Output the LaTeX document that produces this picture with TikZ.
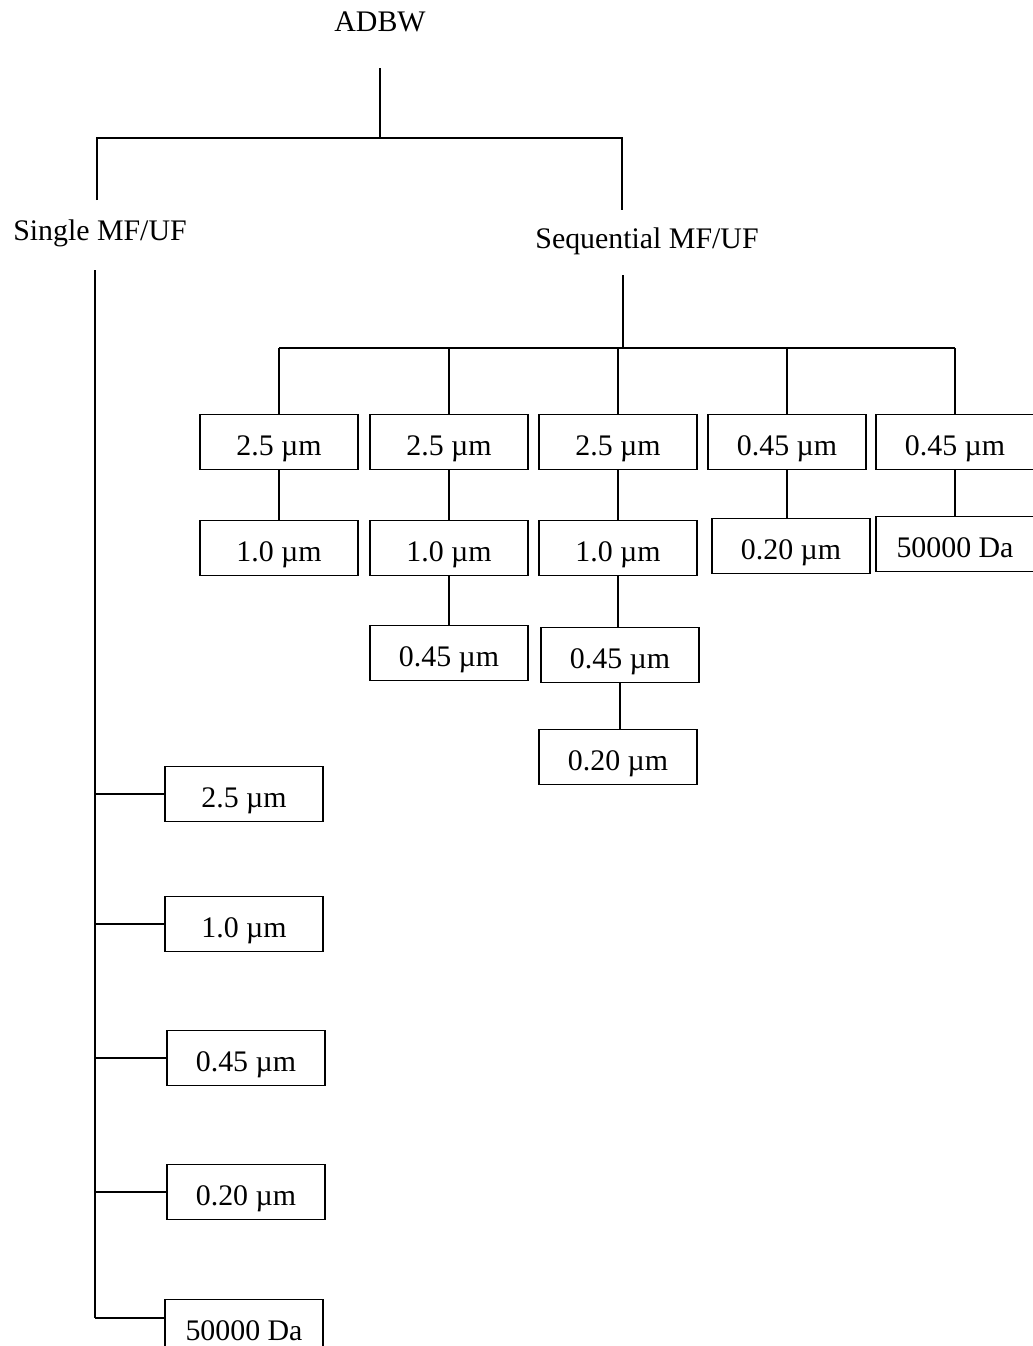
\documentclass[tikz,border=0pt]{standalone}
\usepackage{fontspec}
\setmainfont{Liberation Serif}
\usepackage{tikz}

\tikzset{
  filt/.style={draw, line width=1.1pt, minimum width=3.16cm, minimum height=1.1cm,
    inner sep=0pt, text height=15pt, text depth=0pt,
    font=\fontsize{17pt}{20pt}\selectfont},
  lbl/.style={inner sep=0pt, font=\fontsize{17pt}{20pt}\selectfont},
  link/.style={line width=1.2pt}
}

\begin{document}
\begin{tikzpicture}[x=0.02cm,y=-0.02cm]

\useasboundingbox (0,0) rectangle (1032,1346);

% Root
\node[lbl] (adbw) at (380,22) {ADBW};
\coordinate (rootstem) at (380,68);
\coordinate (rootfork) at (380,138);
\draw[link] (rootstem) -- (rootfork);

% Two branches
\coordinate (singletop) at (97,200);
\coordinate (seqtop) at (622,210);
\draw[link] (singletop) -- (singletop |- rootfork) -- (seqtop |- rootfork) -- (seqtop);
\node[lbl] (single) at (100,233) {Single MF/UF};
\node[lbl] (seq) at (647,241) {Sequential MF/UF};

% Sequential stem and bar
\coordinate (seqstem) at (623,275);
\coordinate (seqbar) at (623,348);
\draw[link] (seqstem) -- (seqbar);

% Sequential first row
\node[filt] (t1) at (279,442) {2.5 µm};
\node[filt] (t2) at (449,442) {2.5 µm};
\node[filt] (t3) at (618,442) {2.5 µm};
\node[filt] (t4) at (787,442) {0.45 µm};
\node[filt] (t5) at (955,442) {0.45 µm};
\draw[link] (t1.north |- seqbar) -- (t5.north |- seqbar);
\foreach \i in {1,...,5}
{
\draw[link] (t\i.north |- seqbar) -- (t\i.north);
}

% Sequential second row
\node[filt] (u1) at (279,548) {1.0 µm};
\node[filt] (u2) at (449,548) {1.0 µm};
\node[filt] (u3) at (618,548) {1.0 µm};
\node[filt] (u4) at (791,546) {0.20 µm};
\node[filt] (u5) at (955,544) {50000 Da};
\foreach \i in {1,...,5}
{
\draw[link] (t\i.south) -- (t\i.south |- u\i.north);
}

% Sequential third and fourth row
\node[filt] (v2) at (449,653) {0.45 µm};
\node[filt] (v3) at (620,655) {0.45 µm};
\node[filt] (w3) at (618,757) {0.20 µm};
\draw[link] (u2.south) -- (u2.south |- v2.north);
\draw[link] (u3.south) -- (u3.south |- v3.north);
\draw[link] (v3.south) -- (v3.south |- w3.north);

% Single spine
\coordinate (spinetop) at (95,270);
\coordinate (spineend) at (95,1318);
\draw[link] (spinetop) -- (spineend);

% Single filters
\foreach \n/\x/\y/\t in {1/244/794/2.5 µm, 2/244/924/1.0 µm, 3/246/1058/0.45 µm, 4/246/1192/0.20 µm}
{
\node[filt] (s\n) at (\x,\y) {\t};
\draw[link] (spinetop |- s\n.west) -- (s\n.west);
}
\node[filt] (s5) at (244,1327) {50000 Da};
\draw[link] (spineend) -- (spineend -| s5.west);

\end{tikzpicture}
\end{document}
